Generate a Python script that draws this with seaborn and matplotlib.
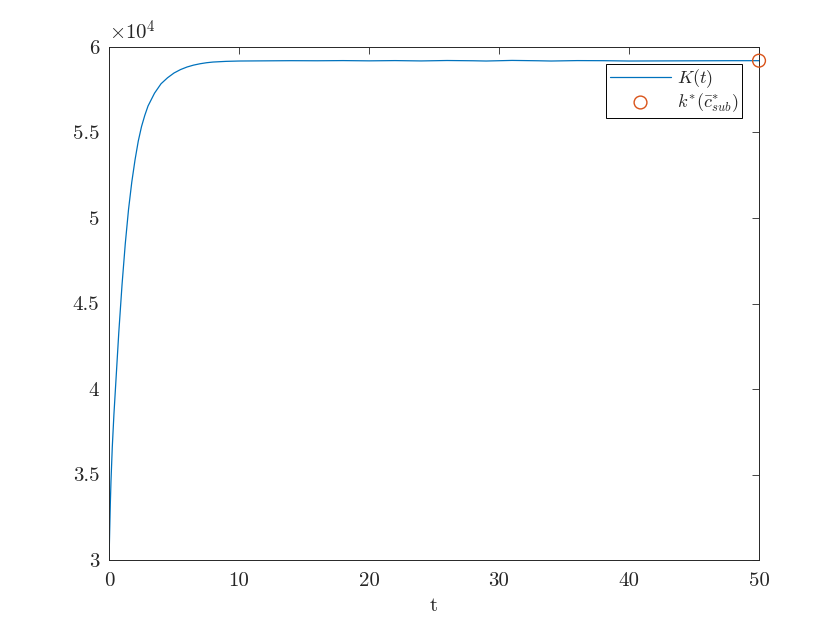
import numpy as np
import pandas as pd
import matplotlib
matplotlib.use('Agg')
import matplotlib.pyplot as plt
from matplotlib.ticker import FuncFormatter, MultipleLocator
import seaborn as sns

sns.set_style('white')
plt.rcParams['font.family'] = 'serif'
plt.rcParams['font.serif'] = ['cmr10', 'DejaVu Serif']
plt.rcParams['mathtext.fontset'] = 'cm'
plt.rcParams['axes.formatter.use_mathtext'] = True

# K(t)
t = [0, 0.05, 0.1, 0.15, 0.25, 0.375, 0.5, 0.75, 1.0, 1.25, 1.5, 1.75, 2.0,
     2.25, 2.5, 2.75, 3.0, 3.5, 4.0, 4.5, 5.0, 5.5, 6.0, 6.5, 7.0, 7.5, 8.0,
     9.0, 10, 12, 14, 16, 18, 20, 22, 24, 26, 28, 29, 31, 33, 34, 36, 38,
     40, 42, 44, 46, 48, 50]
K = [30000, 31700, 33300, 34600, 36600, 38500, 40100, 43300, 46100, 48500,
     50500, 52100, 53400, 54500, 55350, 56000, 56550, 57300, 57850, 58200,
     58480, 58680, 58830, 58940, 59020, 59080, 59120, 59160, 59180,
     59190, 59200, 59195, 59205, 59190, 59205, 59185, 59210, 59195, 59180,
     59215, 59195, 59180, 59205, 59200, 59180, 59185, 59190, 59195, 59200,
     59200]
t_star = [50]
k_star = [59200]

df = pd.DataFrame({'t': t, 'K': K})
df_star = pd.DataFrame({'t': t_star, 'k': k_star})

fig = plt.figure(figsize=(8.4, 6.3), dpi=100)
ax = fig.add_axes([0.1298, 0.1111, 0.7738, 0.8143])

sns.lineplot(data=df, x='t', y='K', ax=ax, color='#0072BD', linewidth=0.9,
             label=r'$K(t)$')
sns.scatterplot(data=df_star, x='t', y='k', ax=ax, marker='o', s=85,
                facecolor='none', edgecolor='#D95319', linewidth=1.0,
                label=r'$k^{*}(\bar{c}^{*}_{sub})$', clip_on=False, zorder=5)

ax.set_xlim(0, 50)
ax.set_ylim(30000, 60000)
ax.xaxis.set_major_locator(MultipleLocator(10))
ax.yaxis.set_major_locator(MultipleLocator(5000))
ax.yaxis.set_major_formatter(FuncFormatter(lambda v, p: '%g' % (v / 1e4)))
ax.xaxis.set_major_formatter(FuncFormatter(lambda v, p: '%g' % v))
ax.tick_params(direction='in', length=5, width=0.6, top=True, right=True,
               labelsize=15, colors='#262626', pad=7)
ax.tick_params(axis='x', pad=9)
for s in ax.spines.values():
    s.set_linewidth(0.7)
    s.set_color('#262626')

ax.set_xlabel('t', fontsize=15, color='#262626', labelpad=5)
ax.set_ylabel('')
ax.text(0.0, 1.006, r'$\times10^{4}$', transform=ax.transAxes, fontsize=15,
        ha='left', va='bottom', color='#262626')

leg = ax.legend(loc='upper right', fontsize=13, frameon=True, fancybox=False,
                edgecolor='black', framealpha=1, handlelength=3.4,
                borderaxespad=0.95, borderpad=0.2, labelspacing=0.05,
                handletextpad=0.3)
leg.get_frame().set_linewidth(0.7)

fig.savefig('out.png', dpi=100)
